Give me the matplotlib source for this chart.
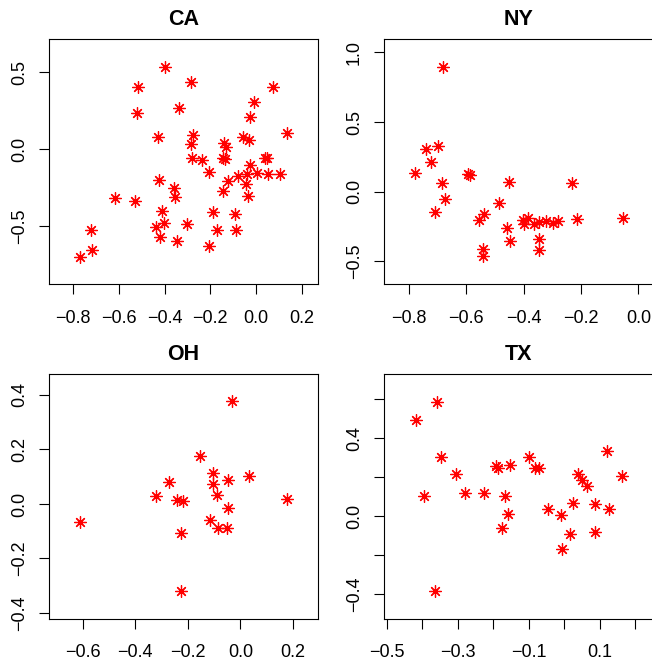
import matplotlib
matplotlib.use('Agg')
import matplotlib.pyplot as plt
import numpy as np

plt.rcParams['font.family'] = ['Liberation Sans', 'DejaVu Sans']

# CA
ca_x = [-0.397, -0.515, -0.285, 0.073, -0.009, -0.523, -0.339, -0.026, 0.136, -0.429,
        -0.276, -0.286, -0.139, -0.133, -0.058, -0.029, -0.280, -0.238, -0.145, -0.136,
        0.039, 0.050, -0.207, -0.026, -0.077, -0.038, 0.003, 0.055, 0.107, -0.121,
        -0.044, -0.145, -0.036, -0.426, -0.358, -0.356, -0.619, -0.531, -0.413, -0.187,
        -0.093, -0.403, -0.439, -0.304, -0.419, -0.171, -0.086, -0.346, -0.206, -0.724,
        -0.717, -0.771]
ca_y = [0.536, 0.406, 0.434, 0.406, 0.308, 0.232, 0.265, 0.206, 0.106, 0.078,
        0.091, 0.030, 0.041, 0.015, 0.078, 0.061, -0.059, -0.072, -0.059, -0.067,
        -0.059, -0.059, -0.148, -0.104, -0.174, -0.163, -0.158, -0.163, -0.163, -0.206,
        -0.228, -0.271, -0.304, -0.202, -0.256, -0.315, -0.321, -0.338, -0.406, -0.408,
        -0.423, -0.484, -0.505, -0.486, -0.571, -0.529, -0.529, -0.597, -0.631, -0.527,
        -0.659, -0.701]

# NY
ny_x = [-0.680, -0.740, -0.699, -0.723, -0.778, -0.684, -0.674, -0.708, -0.593, -0.587,
        -0.451, -0.485, -0.557, -0.537, -0.542, -0.542, -0.457, -0.448, -0.403, -0.384,
        -0.399, -0.365, -0.347, -0.322, -0.299, -0.281, -0.347, -0.345, -0.230, -0.215,
        -0.053]
ny_y = [0.893, 0.306, 0.325, 0.217, 0.134, 0.060, -0.050, -0.148, 0.129, 0.117,
        0.067, -0.084, -0.201, -0.160, -0.413, -0.463, -0.260, -0.353, -0.201, -0.189,
        -0.232, -0.232, -0.220, -0.210, -0.225, -0.208, -0.339, -0.416, 0.060, -0.196,
        -0.191]

# OH
oh_x = [-0.032, -0.154, -0.105, -0.047, 0.034, -0.105, -0.270, -0.323, -0.091, -0.241,
        -0.219, 0.176, -0.047, -0.116, -0.084, -0.051, -0.225, -0.610, -0.225]
oh_y = [0.376, 0.176, 0.115, 0.087, 0.103, 0.074, 0.080, 0.031, 0.034, 0.016,
        0.011, 0.018, -0.013, -0.058, -0.088, -0.088, -0.107, -0.065, -0.319]

# TX
tx_x = [-0.358, -0.418, -0.348, -0.395, -0.304, -0.281, -0.226, -0.193, -0.186, -0.152,
        -0.168, -0.159, -0.176, -0.098, -0.083, -0.070, -0.045, -0.009, -0.005, 0.016,
        0.025, 0.038, 0.051, 0.065, 0.088, 0.088, 0.119, 0.125, 0.164, -0.364]
tx_y = [0.587, 0.494, 0.302, 0.105, 0.214, 0.120, 0.117, 0.256, 0.244, 0.261,
        0.105, 0.010, -0.063, 0.305, 0.244, 0.244, 0.036, 0.005, -0.168, -0.094,
        0.067, 0.214, 0.185, 0.154, 0.062, -0.084, 0.334, 0.036, 0.206, -0.384]

W, H = 652, 665
fig = plt.figure(figsize=(W / 100, H / 100), dpi=100)


def fmt(v):
    s = '%.1f' % v
    if s == '-0.0':
        s = '0.0'
    return s.replace('-', '\u2212')


def panel(box, x, y, title, xlim, ylim, xt, yt, xlab=None, ylab=None):
    l, t, r, b = box
    ax = fig.add_axes([l / W, 1 - b / H, (r - l) / W, (b - t) / H])
    ax.plot(x, y, ls='none', marker=(8, 2, 0), ms=8.7, mew=0.9, color='red')
    ax.set_xlim(*xlim)
    ax.set_ylim(*ylim)
    ax.set_xticks(xt)
    ax.set_yticks(yt)
    if xlab is None:
        xlab = xt
    if ylab is None:
        ylab = yt
    ax.set_xticklabels([fmt(v) if v in xlab else '' for v in xt])
    ax.set_yticklabels([fmt(v) if v in ylab else '' for v in yt],
                       rotation=90, va='center')
    ax.tick_params(axis='both', direction='out', length=7.5, width=0.8,
                   labelsize=13)
    ax.tick_params(axis='x', pad=11)
    ax.tick_params(axis='y', pad=8)
    for s in ax.spines.values():
        s.set_linewidth(0.8)
    ax.set_title(title, fontsize=15.5, fontweight='bold', pad=10)
    return ax


panel((49.3, 39.3, 318, 284), ca_x, ca_y, 'CA', (-0.905, 0.272), (-0.879, 0.714),
      [-0.8, -0.6, -0.4, -0.2, 0.0, 0.2], [-0.5, 0.0, 0.5])
panel((384.3, 39.3, 653, 284), ny_x, ny_y, 'NY', (-0.886, 0.051), (-0.662, 1.094),
      [-0.8, -0.6, -0.4, -0.2, 0.0], [-0.5, 0.0, 0.5, 1.0])
panel((49.3, 373.7, 318, 618.7), oh_x, oh_y, 'OH', (-0.727, 0.295), (-0.421, 0.478),
      [-0.6, -0.4, -0.2, 0.0, 0.2], [-0.4, -0.2, 0.0, 0.2, 0.4])
panel((384.3, 373.7, 653, 618.7), tx_x, tx_y, 'TX', (-0.507, 0.250), (-0.528, 0.731),
      [-0.5, -0.4, -0.3, -0.2, -0.1, 0.0, 0.1, 0.2], [-0.4, -0.2, 0.0, 0.2, 0.4, 0.6],
      xlab=[-0.5, -0.3, -0.1, 0.1], ylab=[-0.4, 0.0, 0.4])

fig.savefig('out.png', dpi=100)
